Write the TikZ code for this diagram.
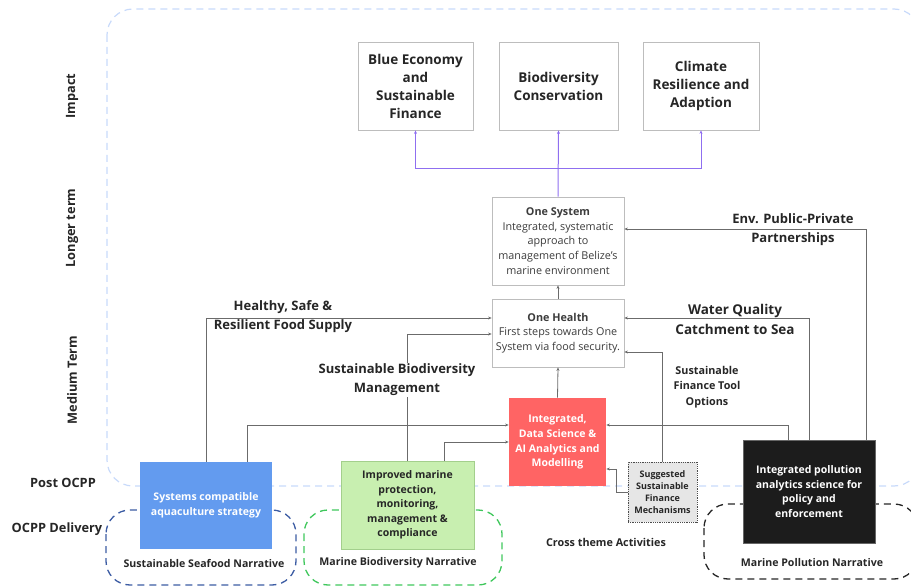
\documentclass[tikz,border=0pt]{standalone}
\usepackage{fontspec}
\setmainfont{Open Sans}
\usetikzlibrary{arrows.meta,calc}
\definecolor{txt}{HTML}{262626}
\definecolor{boxgray}{HTML}{BDBDBD}
\definecolor{linegray}{HTML}{6B6B6B}
\definecolor{regionblue}{HTML}{C8DAFA}
\definecolor{seablue}{HTML}{639BEF}
\definecolor{seadash}{HTML}{3C5CA3}
\definecolor{greenfill}{HTML}{C8EFB0}
\definecolor{greenline}{HTML}{A3CF8C}
\definecolor{greendash}{HTML}{3FC75C}
\definecolor{redfill}{HTML}{FF6464}
\definecolor{darkfill}{HTML}{1C1C1C}
\definecolor{sugfill}{HTML}{E6E6E6}
\definecolor{purp}{HTML}{8F6FF0}
\tikzset{
  impactbox/.style={draw=boxgray, line width=0.8pt, fill=white, text=txt, align=center,
    font=\fontsize{13.5}{18}\selectfont\bfseries, minimum height=88pt, inner sep=2pt},
  sysbox/.style={draw=boxgray, line width=0.8pt, fill=white, text=txt!90, align=center,
    font=\fontsize{10.8}{14.6}\selectfont, minimum width=132pt, inner sep=1pt},
  fillbox/.style={align=center, font=\fontsize{10.5}{14.6}\selectfont\bfseries, inner sep=2pt, line width=0.8pt},
  conn/.style={draw=linegray, line width=0.8pt, -{Stealth[length=3.5pt,width=3pt]}},
  pconn/.style={draw=purp, line width=1pt, -{Stealth[length=3.5pt,width=3pt]}},
  edgelbl/.style={text=txt, align=center, font=\fontsize{13}{19}\selectfont\bfseries, inner sep=1pt},
  sidelbl/.style={text=txt, font=\fontsize{12.8}{14}\selectfont\bfseries, inner sep=1pt},
  narrlbl/.style={text=txt, font=\fontsize{10.6}{12}\selectfont\bfseries, inner sep=1pt},
  narrbox/.style={line width=1.3pt, dash pattern=on 7pt off 5pt, rounded corners=24pt},
}
\begin{document}
\begin{tikzpicture}[x=1pt,y=-1pt]
\useasboundingbox (0,0) rectangle (911,588);
\clip (0,0) rectangle (911,588);
% background region
\draw[draw=regionblue, line width=1.2pt, dash pattern=on 7pt off 5pt, rounded corners=26pt] (107,9) rectangle (920,486);
% narrative regions
\draw[narrbox, draw=seadash] (106,510) rectangle (296,585);
\draw[narrbox, draw=greendash] (304,510) rectangle (502,585);
\draw[narrbox, draw=black!85] (704,504) rectangle (918,579);
% side labels
\node[sidelbl, rotate=90] (limpact) at (72,96) {Impact};
\node[sidelbl, rotate=90] (llonger) at (72,228) {Longer term};
\node[sidelbl, rotate=90] (lmedium) at (72,380) {Medium Term};
\node[sidelbl] (lpost) at (63,483) {Post OCPP};
\node[sidelbl] (ldeliv) at (57,529) {OCPP Delivery};
% impact boxes
\node[impactbox, minimum width=115pt] (blueecon) at (415.5,86) {Blue Economy\\and\\Sustainable\\Finance};
\node[impactbox, minimum width=119pt] (biodiv) at (558.5,86) {Biodiversity\\Conservation};
\node[impactbox, minimum width=116pt] (climate) at (701,86) {Climate\\Resilience and\\Adaption};
% system boxes
\node[sysbox, minimum height=88pt] (onesystem) at (558,241) {{\bfseries One System}\\Integrated, systematic\\approach to\\management of Belize's\\marine environment};
\node[sysbox, minimum height=68pt] (onehealth) at (558,333) {{\bfseries One Health}\\First steps towards One\\System via food security.};
% activity boxes
\node[fillbox, fill=redfill, text=white, minimum width=97pt, minimum height=88pt] (red) at (557.5,442) {Integrated,\\Data Science \&\\AI Analytics and\\Modelling};
\node[fillbox, fill=sugfill, draw=black!70, densely dotted, text=txt, font=\fontsize{9}{11.8}\selectfont\bfseries, minimum width=69pt, minimum height=60pt, inner sep=1pt] (suggested) at (662.5,492) {Suggested\\Sustainable\\Finance\\Mechanisms};
\node[fillbox, fill=darkfill, draw=black!60, text=white, minimum width=132pt, minimum height=103pt] (pollution) at (809,491.5) {Integrated pollution\\analytics science for\\policy and\\enforcement};
\node[fillbox, fill=seablue, text=white, minimum width=132pt, minimum height=87pt] (seafood) at (206,505.5) {Systems compatible\\aquaculture strategy};
\node[fillbox, fill=greenfill, draw=greenline, text=txt, minimum width=133pt, minimum height=88pt] (green) at (407.5,505) {Improved marine\\protection,\\monitoring,\\management \&\\compliance};
% purple connectors
\coordinate (pj) at (558,168.5);
\draw[pconn] (onesystem.north) -- (biodiv.south);
\draw[pconn] (pj) -| (blueecon.south);
\draw[pconn] (pj) -| (climate.south);
% grey connectors
\draw[conn] (onehealth.north) -- (onesystem.south);
\draw[conn] (red.north) -- (onehealth.south);
\draw[conn] (seafood.north) |- ([yshift=15pt]onehealth.west);
\draw[conn] ([xshift=41pt]seafood.north) |- ([yshift=17pt]red.west);
\draw[conn] (green.north) |- ([yshift=-1pt]onehealth.west);
\draw[conn] ([xshift=37pt]green.north) |- (red.west);
\draw[conn] ([xshift=-21pt]pollution.north) |- ([yshift=17pt]red.east);
\draw[conn] (pollution.north) |- ([yshift=15pt]onehealth.east);
\draw[conn] ([xshift=57pt]pollution.north) |- ([yshift=12pt]onesystem.east);
\draw[conn] (suggested.north) |- ([yshift=-19pt]onehealth.east);
\draw[conn] (suggested.west) -- ++(-11,0) |- ([yshift=-27pt]red.east);
% connector labels
\node[edgelbl] (lfood) at (283,316.5) {Healthy, Safe \&\\Resilient Food Supply};
\node[edgelbl, fill=white] (lsbm) at (397,379.5) {Sustainable Biodiversity\\Management};
\node[edgelbl, font=\fontsize{13.5}{20}\selectfont\bfseries] (lwater) at (735,319) {Water Quality\\Catchment to Sea};
\node[edgelbl] (lenv) at (793,229.5) {Env. Public-Private\\Partnerships};
\node[edgelbl, font=\fontsize{10.8}{15.7}\selectfont\bfseries] (lsfto) at (707,387) {Sustainable\\Finance Tool\\Options};
\node[narrlbl, font=\fontsize{10.8}{12}\selectfont\bfseries] (lcross) at (606,542) {Cross theme Activities};
% narrative labels
\node[narrlbl] (nsea) at (204,563) {Sustainable Seafood Narrative};
\node[narrlbl] (nbio) at (398,563) {Marine Biodiversity Narrative};
\node[narrlbl] (npol) at (812,563) {Marine Pollution Narrative};
\end{tikzpicture}
\end{document}
